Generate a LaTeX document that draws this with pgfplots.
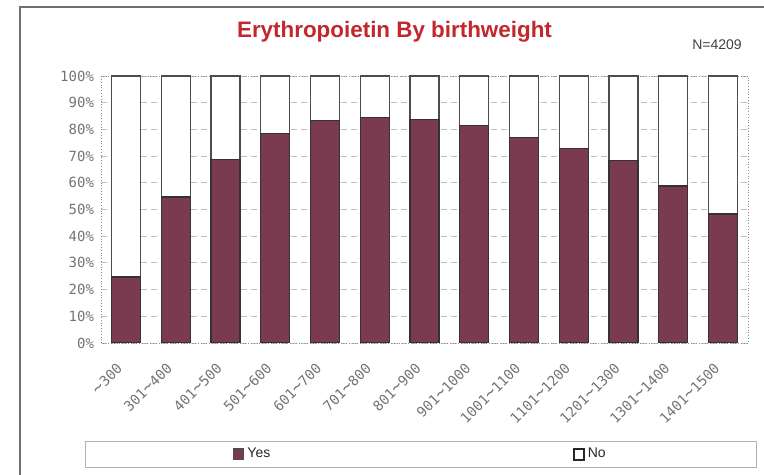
\documentclass[border=0pt]{standalone}
\usepackage{fontspec}
\usepackage{pgfplots}
\pgfplotsset{compat=1.18}
\setmainfont{Liberation Sans}
\newfontfamily\monof{DejaVu Sans Mono}
\definecolor{barred}{HTML}{7A3B50}
\definecolor{titlered}{HTML}{C1272D}
\definecolor{framegray}{HTML}{707070}
\newcommand{\wv}{{\fontsize{8.5}{8}\selectfont\textasciitilde}}
\begin{document}
\begin{tikzpicture}[x=0.5pt,y=0.5pt]
\path[use as bounding box] (0,0) rectangle (764,475);
\draw[framegray, line width=1pt] (20,-5) -- (20,468) -- (770,468);
\node[font=\fontsize{11.2}{13}\selectfont\bfseries, text=titlered, inner sep=0pt] at (394.5,443) {Erythropoietin By birthweight};
\node[font=\fontsize{7}{8}\selectfont, text=black!75, inner sep=0pt] at (717,430) {N=4209};
\begin{axis}[
  at={(50.5pt,66pt)}, anchor=south west,
  scale only axis, width=323.5pt, height=133.5pt,
  ybar stacked, bar width=14.5pt,
  xmin=-0.5, xmax=12.5, ymin=0, ymax=100,
  xtick={0,1,...,12},
  xticklabels={\wv300,301\wv400,401\wv500,501\wv600,601\wv700,701\wv800,801\wv900,901\wv1000,1001\wv1100,1101\wv1200,1201\wv1300,1301\wv1400,1401\wv1500},
  xticklabel style={xshift=-3pt, yshift=-11.5pt, rotate=45, anchor=east, inner sep=0pt, font=\monof\fontsize{7}{8}\selectfont, text=black!55},
  ytick={0,10,...,100},
  yticklabel={\pgfmathprintnumber{\tick}\%},
  yticklabel style={font=\monof\fontsize{7}{8}\selectfont, text=black!55, /pgf/number format/assume math mode=true},
  major tick length=0pt,
  ymajorgrids, grid style={densely dashed, black!25},
  axis line style={black!45, densely dotted},
  legend columns=2,
  legend style={at={(0.4946,-0.4176)}, anchor=center, draw=black!30,
    inner xsep=74pt, inner ysep=1.5pt,
    font=\fontsize{7}{8}\selectfont, text=black!85,
    /tikz/every even column/.style={column sep=150pt},
    nodes={inner xsep=1.5pt}},
]
\addplot[fill=barred, draw=black!80, line width=0.6pt,
  legend image code/.code={\draw[fill=barred, draw=black!70, line width=0.6pt] (0pt,-2.7pt) rectangle (5pt,2.7pt);}]
  coordinates {(0,24.7) (1,54.7) (2,68.8) (3,78.5) (4,83.3) (5,84.5) (6,83.8) (7,81.6) (8,77.0) (9,72.8) (10,68.2) (11,58.8) (12,48.3)};
\addplot[fill=white, draw=black!70, line width=0.6pt,
  legend image code/.code={\draw[fill=white, draw=black!85, line width=0.8pt] (0pt,-2.7pt) rectangle (5pt,2.7pt);}]
  coordinates {(0,75.3) (1,45.3) (2,31.2) (3,21.5) (4,16.7) (5,15.5) (6,16.2) (7,18.4) (8,23.0) (9,27.2) (10,31.8) (11,41.2) (12,51.7)};
\legend{Yes,No}
\end{axis}
\end{tikzpicture}
\end{document}
